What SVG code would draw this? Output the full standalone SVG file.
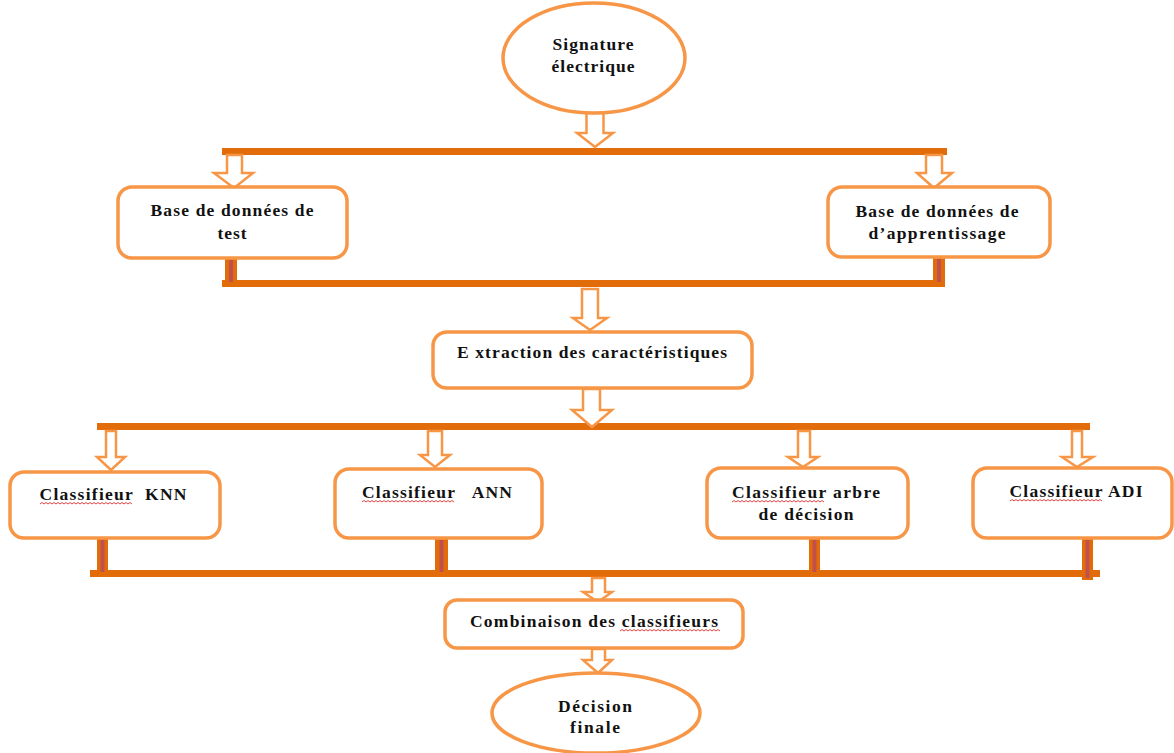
<svg xmlns="http://www.w3.org/2000/svg" width="1174" height="753" viewBox="0 0 1174 753">
<style>
.box{fill:#fff;stroke:#F79646;stroke-width:3.5}
.bar{fill:#E36C0A}
.stripe{fill:#C0504D}
.arr{fill:#fff;stroke:#F79646;stroke-width:2.5;stroke-linejoin:miter}
.t{font-family:"Liberation Serif","Times New Roman",serif;font-weight:bold;font-size:17.5px;fill:#111;text-anchor:middle}
.sq{fill:none;stroke:#E03030;stroke-width:0.9}
</style>
<rect width="1174" height="753" fill="#fff"/>
<g id="connectors">
  <rect class="bar" x="222" y="148" width="725" height="7"/>
  <rect class="bar" x="222" y="280" width="723" height="7"/>
  <rect class="bar" x="97" y="423" width="993" height="7"/>
  <rect class="bar" x="90" y="570" width="1010" height="7"/>
  <rect class="bar" x="225" y="258" width="12" height="29"/><rect class="stripe" x="229" y="260" width="4" height="22"/>
  <rect class="bar" x="933" y="257" width="12" height="30"/><rect class="stripe" x="937" y="259" width="4" height="23"/>
  <rect class="bar" x="97" y="538" width="11" height="39"/><rect class="stripe" x="100.5" y="540" width="4" height="32"/>
  <rect class="bar" x="435" y="538" width="13" height="39"/><rect class="stripe" x="439.5" y="540" width="4" height="32"/>
  <rect class="bar" x="809" y="538" width="11" height="39"/><rect class="stripe" x="812.5" y="540" width="4" height="32"/>
  <rect class="bar" x="1082" y="538" width="11" height="42"/><rect class="stripe" x="1085.5" y="540" width="4" height="38"/>
  <path class="arr" d="M586.5,113 H603.5 V133 H613 L595,147 L577,133 H586.5 Z"/>
  <path class="arr" d="M227,155 H242 V173 H253 L234,188 L214,173 H227 Z"/>
  <path class="arr" d="M926,155 H942 V173 H952 L934,188 L917,173 H926 Z"/>
  <path class="arr" d="M582,289 H598 V318 H607 L590,330 L573,318 H582 Z"/>
  <path class="arr" d="M583,389 H600 V410 H612 L592,427 L572,410 H583 Z"/>
  <path class="arr" d="M106,431 H116 V457 H125 L111,470 L97,457 H106 Z"/>
  <path class="arr" d="M428,431 H442 V455 H450 L435,467 L420,455 H428 Z"/>
  <path class="arr" d="M798,431 H810 V457 H818 L803,467 L788,457 H798 Z"/>
  <path class="arr" d="M1072,431 H1082 V457 H1093 L1077,467 L1062,457 H1072 Z"/>
  <path class="arr" d="M592,578 H605 V592 H612 L598,602 L583,592 H592 Z"/>
  <path class="arr" d="M592,649 H605 V660 H612 L598,673 L583,660 H592 Z"/>
</g>
<g id="n-signature">
  <ellipse class="box" cx="594" cy="58" rx="91" ry="55"/>
  <text class="t" x="593" y="50" textLength="81" lengthAdjust="spacing">Signature</text>
  <text class="t" x="593" y="72" textLength="83" lengthAdjust="spacing">électrique</text>
</g>
<g id="n-base-test">
  <rect class="box" x="118" y="187" width="229" height="71" rx="14"/>
  <text class="t" x="232" y="216" textLength="163" lengthAdjust="spacing">Base de données de</text>
  <text class="t" x="232" y="239" textLength="29" lengthAdjust="spacing">test</text>
</g>
<g id="n-base-app">
  <rect class="box" x="828" y="187" width="222" height="70" rx="14"/>
  <text class="t" x="937" y="217" textLength="163" lengthAdjust="spacing">Base de données de</text>
  <text class="t" x="937" y="239" textLength="137" lengthAdjust="spacing">d’apprentissage</text>
</g>
<g id="n-extraction">
  <rect class="box" x="433" y="332" width="319" height="56" rx="14"/>
  <text class="t" x="592" y="358" textLength="270" lengthAdjust="spacing">E xtraction des caractéristiques</text>
</g>
<g id="n-knn">
  <rect class="box" x="10" y="472" width="210" height="66" rx="14"/>
  <text class="t" x="113" y="500" textLength="147" lengthAdjust="spacing" xml:space="preserve">Classifieur  KNN</text>
  <path class="sq" d="M40,504 l2,-1.5 2,1.5 2,-1.5 2,1.5 2,-1.5 2,1.5 2,-1.5 2,1.5 2,-1.5 2,1.5 2,-1.5 2,1.5 2,-1.5 2,1.5 2,-1.5 2,1.5 2,-1.5 2,1.5 2,-1.5 2,1.5 2,-1.5 2,1.5 2,-1.5 2,1.5 2,-1.5 2,1.5 2,-1.5 2,1.5 2,-1.5 2,1.5 2,-1.5 2,1.5 2,-1.5 2,1.5 2,-1.5 2,1.5 2,-1.5 2,1.5 2,-1.5 2,1.5 2,-1.5 2,1.5 2,-1.5 2,1.5 2,-1.5 2,1.5"/>
</g>
<g id="n-ann">
  <rect class="box" x="335" y="469" width="207" height="69" rx="14"/>
  <text class="t" x="437" y="498" textLength="150" lengthAdjust="spacing" xml:space="preserve">Classifieur   ANN</text>
  <path class="sq" d="M362,502 l2,-1.5 2,1.5 2,-1.5 2,1.5 2,-1.5 2,1.5 2,-1.5 2,1.5 2,-1.5 2,1.5 2,-1.5 2,1.5 2,-1.5 2,1.5 2,-1.5 2,1.5 2,-1.5 2,1.5 2,-1.5 2,1.5 2,-1.5 2,1.5 2,-1.5 2,1.5 2,-1.5 2,1.5 2,-1.5 2,1.5 2,-1.5 2,1.5 2,-1.5 2,1.5 2,-1.5 2,1.5 2,-1.5 2,1.5 2,-1.5 2,1.5 2,-1.5 2,1.5 2,-1.5 2,1.5 2,-1.5 2,1.5 2,-1.5 2,1.5"/>
</g>
<g id="n-arbre">
  <rect class="box" x="707" y="468" width="201" height="70" rx="14"/>
  <text class="t" x="806" y="498" textLength="148" lengthAdjust="spacing">Classifieur arbre</text>
  <text class="t" x="806" y="520" textLength="95" lengthAdjust="spacing">de décision</text>
  <path class="sq" d="M732,502 l2,-1.5 2,1.5 2,-1.5 2,1.5 2,-1.5 2,1.5 2,-1.5 2,1.5 2,-1.5 2,1.5 2,-1.5 2,1.5 2,-1.5 2,1.5 2,-1.5 2,1.5 2,-1.5 2,1.5 2,-1.5 2,1.5 2,-1.5 2,1.5 2,-1.5 2,1.5 2,-1.5 2,1.5 2,-1.5 2,1.5 2,-1.5 2,1.5 2,-1.5 2,1.5 2,-1.5 2,1.5 2,-1.5 2,1.5 2,-1.5 2,1.5 2,-1.5 2,1.5 2,-1.5 2,1.5 2,-1.5 2,1.5 2,-1.5 2,1.5"/>
</g>
<g id="n-adi">
  <rect class="box" x="973" y="468" width="199" height="70" rx="14"/>
  <text class="t" x="1076" y="497" textLength="133" lengthAdjust="spacing">Classifieur ADI</text>
  <path class="sq" d="M1010,501 l2,-1.5 2,1.5 2,-1.5 2,1.5 2,-1.5 2,1.5 2,-1.5 2,1.5 2,-1.5 2,1.5 2,-1.5 2,1.5 2,-1.5 2,1.5 2,-1.5 2,1.5 2,-1.5 2,1.5 2,-1.5 2,1.5 2,-1.5 2,1.5 2,-1.5 2,1.5 2,-1.5 2,1.5 2,-1.5 2,1.5 2,-1.5 2,1.5 2,-1.5 2,1.5 2,-1.5 2,1.5 2,-1.5 2,1.5 2,-1.5 2,1.5 2,-1.5 2,1.5 2,-1.5 2,1.5 2,-1.5 2,1.5 2,-1.5 2,1.5"/>
</g>
<g id="n-combinaison">
  <rect class="box" x="445" y="600" width="298" height="48" rx="12"/>
  <text class="t" x="594" y="627" textLength="248" lengthAdjust="spacing">Combinaison des classifieurs</text>
  <path class="sq" d="M620,631 l2,-1.5 2,1.5 2,-1.5 2,1.5 2,-1.5 2,1.5 2,-1.5 2,1.5 2,-1.5 2,1.5 2,-1.5 2,1.5 2,-1.5 2,1.5 2,-1.5 2,1.5 2,-1.5 2,1.5 2,-1.5 2,1.5 2,-1.5 2,1.5 2,-1.5 2,1.5 2,-1.5 2,1.5 2,-1.5 2,1.5 2,-1.5 2,1.5 2,-1.5 2,1.5 2,-1.5 2,1.5 2,-1.5 2,1.5 2,-1.5 2,1.5 2,-1.5 2,1.5 2,-1.5 2,1.5 2,-1.5 2,1.5 2,-1.5 2,1.5 2,-1.5 2,1.5 2,-1.5 2,1.5"/>
</g>
<g id="n-decision">
  <ellipse class="box" cx="596" cy="713" rx="104" ry="40"/>
  <text class="t" x="595" y="712" textLength="74" lengthAdjust="spacing">Décision</text>
  <text class="t" x="595" y="733" textLength="50" lengthAdjust="spacing">finale</text>
</g>
</svg>
